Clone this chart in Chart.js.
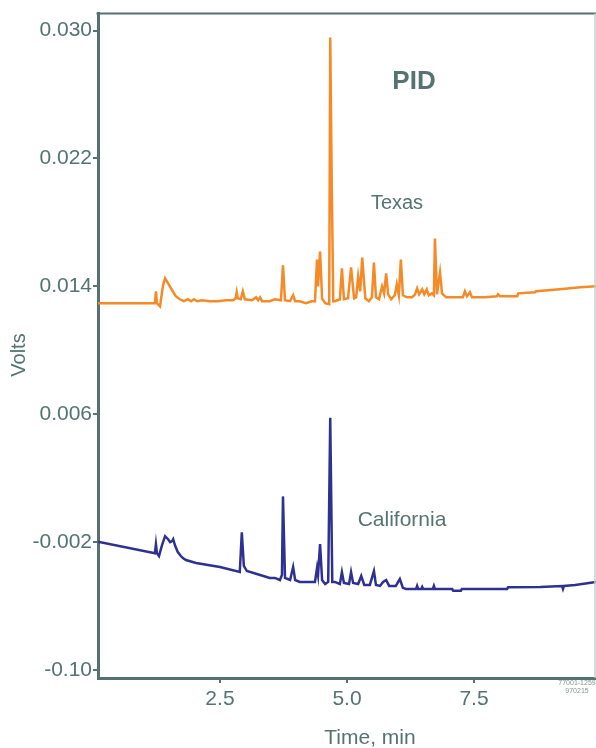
<!DOCTYPE html>
<html>
<head>
<meta charset="utf-8">
<title>PID chromatogram</title>
<script src="https://cdn.jsdelivr.net/npm/chart.js@4"></script>
<style>
  html, body { margin: 0; padding: 0; background: #fff; }
  canvas { display: block; }
</style>
</head>
<body>
<canvas id="pid" width="596" height="748"></canvas>
<script>
const texasTime = [0.10, 1.22, 1.24, 1.26, 1.32, 1.38, 1.42, 1.48, 1.56, 1.63, 1.71, 1.79, 1.87, 1.93, 1.99, 2.05, 2.15, 2.30, 2.46, 2.62,
  2.76, 2.81, 2.83, 2.85, 2.91, 2.95, 2.99, 3.13, 3.21, 3.25, 3.29, 3.33, 3.48, 3.58, 3.70, 3.74, 3.78, 3.88, 3.94, 3.98,
  4.07, 4.19, 4.31, 4.37, 4.41, 4.43, 4.47, 4.51, 4.57, 4.65, 4.67, 4.68, 4.70, 4.73, 4.76, 4.86, 4.90, 4.94, 5.02, 5.08,
  5.14, 5.18, 5.22, 5.26, 5.30, 5.36, 5.43, 5.49, 5.53, 5.57, 5.63, 5.69, 5.73, 5.77, 5.81, 5.87, 5.94, 5.98, 6.02, 6.06,
  6.10, 6.18, 6.28, 6.34, 6.38, 6.42, 6.48, 6.52, 6.57, 6.61, 6.67, 6.71, 6.73, 6.77, 6.83, 6.87, 6.95, 7.13, 7.28, 7.32,
  7.36, 7.42, 7.46, 7.72, 7.95, 7.97, 8.01, 8.35, 8.37, 8.70, 8.72, 9.19, 9.59, 9.90];
const texasVolts = [0.01294, 0.01294, 0.01369, 0.01294, 0.01275, 0.01406, 0.01450, 0.01419, 0.01375, 0.01338, 0.01319, 0.01307, 0.01319, 0.01307, 0.01319, 0.01307, 0.01313, 0.01307, 0.01307, 0.01313,
  0.01313, 0.01325, 0.01363, 0.01325, 0.01319, 0.01369, 0.01319, 0.01313, 0.01331, 0.01313, 0.01331, 0.01307, 0.01307, 0.01319, 0.01313, 0.01531, 0.01313, 0.01307, 0.01344, 0.01307,
  0.01307, 0.01294, 0.01307, 0.01307, 0.01568, 0.01400, 0.01618, 0.01325, 0.01294, 0.01288, 0.02956, 0.02956, 0.02023, 0.01307, 0.01307, 0.01319, 0.01512, 0.01319, 0.01325, 0.01518,
  0.01325, 0.01331, 0.01462, 0.01369, 0.01580, 0.01325, 0.01307, 0.01331, 0.01549, 0.01331, 0.01319, 0.01400, 0.01356, 0.01481, 0.01350, 0.01319, 0.01344, 0.01412, 0.01344, 0.01568,
  0.01344, 0.01331, 0.01331, 0.01350, 0.01387, 0.01350, 0.01381, 0.01350, 0.01381, 0.01344, 0.01356, 0.01344, 0.01699, 0.01350, 0.01487, 0.01356, 0.01331, 0.01331, 0.01331, 0.01369,
  0.01338, 0.01363, 0.01331, 0.01331, 0.01338, 0.01350, 0.01338, 0.01338, 0.01356, 0.01363, 0.01369, 0.01381, 0.01394, 0.01400];

const californiaTime = [0.10, 1.22, 1.24, 1.26, 1.30, 1.36, 1.42, 1.48, 1.52, 1.56, 1.58, 1.62, 1.67, 1.73, 1.77, 1.83, 2.03, 2.50, 2.89, 2.93,
  2.97, 3.03, 3.29, 3.48, 3.58, 3.68, 3.72, 3.74, 3.78, 3.88, 3.94, 3.98, 4.07, 4.27, 4.37, 4.41, 4.43, 4.47, 4.51, 4.57,
  4.63, 4.67, 4.71, 4.76, 4.86, 4.90, 4.94, 5.04, 5.08, 5.12, 5.22, 5.28, 5.34, 5.45, 5.53, 5.57, 5.65, 5.71, 5.77, 5.83,
  5.96, 6.04, 6.10, 6.16, 6.36, 6.38, 6.40, 6.46, 6.48, 6.50, 6.69, 6.71, 6.73, 7.07, 7.09, 7.24, 7.26, 8.15, 8.17, 8.80,
  9.23, 9.25, 9.27, 9.49, 9.90];
const californiaVolts = [-0.00198, -0.00269, -0.00213, -0.00269, -0.00287, -0.00219, -0.00163, -0.00182, -0.00200, -0.00194, -0.00182, -0.00225, -0.00262, -0.00287, -0.00300, -0.00312, -0.00331, -0.00356, -0.00387, -0.00138,
  -0.00349, -0.00381, -0.00406, -0.00424, -0.00424, -0.00437, -0.00406, 0.00086, -0.00424, -0.00437, -0.00356, -0.00437, -0.00449, -0.00449, -0.00449, -0.00362, -0.00406, -0.00213, -0.00437, -0.00462,
  -0.00449, 0.00578, -0.00449, -0.00449, -0.00462, -0.00387, -0.00455, -0.00462, -0.00387, -0.00455, -0.00462, -0.00412, -0.00468, -0.00468, -0.00381, -0.00468, -0.00474, -0.00449, -0.00437, -0.00474,
  -0.00474, -0.00431, -0.00486, -0.00493, -0.00493, -0.00474, -0.00493, -0.00493, -0.00480, -0.00493, -0.00493, -0.00474, -0.00493, -0.00493, -0.00505, -0.00505, -0.00493, -0.00493, -0.00483, -0.00480,
  -0.00474, -0.00493, -0.00474, -0.00468, -0.00449];

const yTickValues = [-0.010, -0.002, 0.006, 0.014, 0.022, 0.030];
const yTickLabels = ['-0.10', '-0.002', '0.006', '0.014', '0.022', '0.030'];
const xTickValues = [2.5, 5.0, 7.5];
const xTickLabels = ['2.5', '5.0', '7.5'];

const axisColor = '#537271';
const textColor = '#557371';

Chart.defaults.font.family = '"Liberation Sans", Arial, sans-serif';

function toPoints(xs, ys) {
  return xs.map((x, i) => ({ x: x, y: ys[i] }));
}

// labels and frame on top of the chart area
const annotations = {
  id: 'annotations',
  afterDraw(chart) {
    const { ctx, chartArea } = chart;
    ctx.save();
    ctx.strokeStyle = axisColor;
    ctx.lineWidth = 2;
    ctx.beginPath();
    ctx.moveTo(chartArea.left - 1.5, chartArea.top);
    ctx.lineTo(chartArea.right, chartArea.top);
    ctx.stroke();
    ctx.strokeStyle = '#c9d2d2';
    ctx.lineWidth = 1.5;
    ctx.beginPath();
    ctx.moveTo(chartArea.right - 1, chartArea.top);
    ctx.lineTo(chartArea.right - 1, chartArea.bottom);
    ctx.stroke();

    ctx.fillStyle = textColor;
    ctx.textAlign = 'center';
    ctx.textBaseline = 'alphabetic';
    ctx.font = 'bold 26px "Liberation Sans", Arial, sans-serif';
    ctx.fillText('PID', 414, 89);
    ctx.font = '20px "Liberation Sans", Arial, sans-serif';
    ctx.fillText('Texas', 397, 209);
    ctx.font = '21px "Liberation Sans", Arial, sans-serif';
    ctx.fillText('California', 402, 526);
    ctx.font = '21px "Liberation Sans", Arial, sans-serif';
    ctx.fillText('Time, min', 370, 744);

    ctx.save();
    ctx.translate(25, 355);
    ctx.rotate(-Math.PI / 2);
    ctx.font = '20px "Liberation Sans", Arial, sans-serif';
    ctx.fillText('Volts', 0, 0);
    ctx.restore();

    ctx.fillStyle = '#8a9494';
    ctx.font = '7px "Liberation Sans", Arial, sans-serif';
    ctx.fillText('77001-1259', 577, 685);
    ctx.fillText('970215', 577, 693);
    ctx.restore();
  }
};

new Chart(document.getElementById('pid'), {
  type: 'line',
  data: {
    datasets: [
      {
        label: 'Texas',
        data: toPoints(texasTime, texasVolts),
        borderColor: '#f58a26',
        borderWidth: 2.5,
        pointRadius: 0,
        tension: 0
      },
      {
        label: 'California',
        data: toPoints(californiaTime, californiaVolts),
        borderColor: '#2e3192',
        borderWidth: 2.5,
        pointRadius: 0,
        tension: 0
      }
    ]
  },
  options: {
    responsive: false,
    animation: false,
    layout: { padding: { top: 11, right: 0, left: 0, bottom: 0 } },
    plugins: {
      legend: { display: false },
      tooltip: { enabled: false }
    },
    scales: {
      x: {
        type: 'linear',
        min: 0.1,
        max: 9.9,
        afterFit(scale) { scale.height = 70; },
        afterBuildTicks(scale) { scale.ticks = xTickValues.map(v => ({ value: v })); },
        border: { color: axisColor, width: 3 },
        grid: { drawOnChartArea: false, color: axisColor, tickColor: axisColor, tickLength: 5, lineWidth: 2 },
        ticks: {
          color: textColor,
          font: { size: 21 },
          padding: 4,
          maxRotation: 0,
          callback: (v) => xTickLabels[xTickValues.indexOf(v)]
        }
      },
      y: {
        type: 'linear',
        min: -0.0105,
        max: 0.03106,
        afterFit(scale) { scale.width = 98; },
        afterBuildTicks(scale) { scale.ticks = yTickValues.map(v => ({ value: v })); },
        border: { color: axisColor, width: 3 },
        grid: { drawOnChartArea: false, color: axisColor, tickColor: axisColor, tickLength: 5, lineWidth: 2 },
        ticks: {
          color: textColor,
          font: { size: 21 },
          padding: 1,
          callback: (v) => yTickLabels[yTickValues.indexOf(v)]
        }
      }
    }
  },
  plugins: [annotations]
});
</script>
</body>
</html>
